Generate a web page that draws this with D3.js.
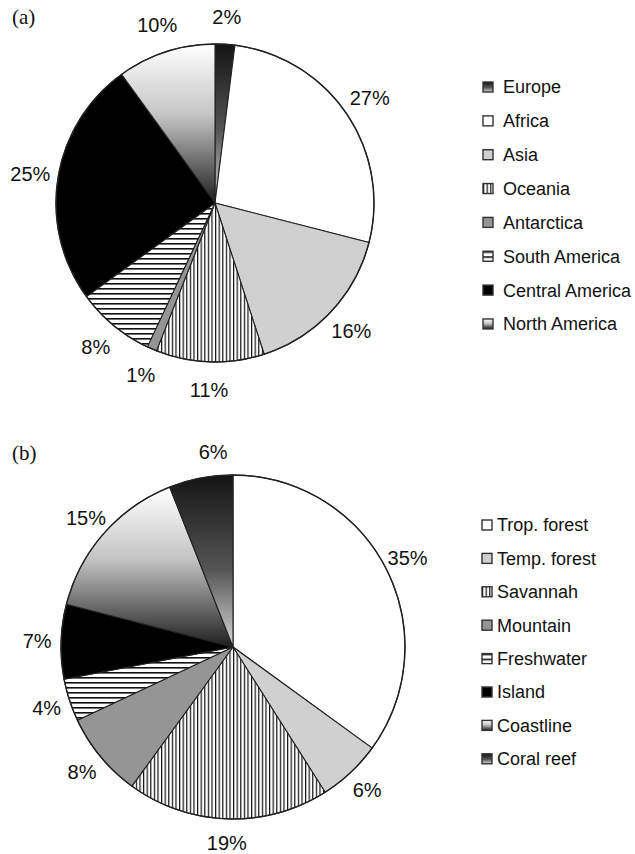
<!DOCTYPE html>
<html>
<head>
<meta charset="utf-8">
<script src="https://cdn.jsdelivr.net/npm/d3@7"></script>
<style>
  html, body { margin: 0; padding: 0; background: #fff; }
  svg { display: block; }
</style>
</head>
<body>
<svg id="chart" width="635" height="854"></svg>
<script>
// Panel (a): share of records by region
const regions = ["Europe", "Africa", "Asia", "Oceania", "Antarctica", "South America", "Central America", "North America"];
const regionShares = [2, 27, 16, 11, 1, 8, 25, 10];
const regionFills = ["gradDark", "white", "lightgray", "vstripe", "midgray", "hstripe", "black", "gradLight"];

// Panel (b): share of records by habitat
const habitats = ["Trop. forest", "Temp. forest", "Savannah", "Mountain", "Freshwater", "Island", "Coastline", "Coral reef"];
const habitatShares = [35, 6, 19, 8, 4, 7, 15, 6];
const habitatFills = ["white", "lightgray", "vstripe", "midgray", "hstripe", "black", "gradLight", "gradDark"];

const panelLetters = ["(a)", "(b)"];

const svg = d3.select("#chart");
const defs = svg.append("defs");

// Linear gradients running top-to-bottom over each slice
function addGradient(id, stops) {
  const g = defs.append("linearGradient").attr("id", id)
    .attr("x1", 0).attr("y1", 0).attr("x2", 0).attr("y2", 1);
  stops.forEach(([o, c]) => g.append("stop").attr("offset", o).attr("stop-color", c));
}
addGradient("gradLight", [[0, "#ffffff"], [0.45, "#c4c4c4"], [1, "#1e1e1e"]]);
addGradient("gradDark", [[0, "#141414"], [0.55, "#555555"], [1, "#d8d8d8"]]);

// Hatch patterns
function addStripes(id, period, lineW, vertical) {
  const p = defs.append("pattern").attr("id", id)
    .attr("patternUnits", "userSpaceOnUse")
    .attr("width", period).attr("height", period);
  p.append("rect").attr("width", period).attr("height", period).attr("fill", "#fff");
  if (vertical) p.append("rect").attr("x", 0).attr("y", 0).attr("width", lineW).attr("height", period).attr("fill", "#111");
  else p.append("rect").attr("x", 0).attr("y", 0).attr("width", period).attr("height", lineW).attr("fill", "#111");
}
addStripes("vstripe", 3.6, 1.2, true);
addStripes("hstripe", 5, 1.6, false);

const fillFor = {
  white: "#ffffff",
  lightgray: "#d0d0d0",
  midgray: "#959595",
  black: "#000000",
  vstripe: "url(#vstripe)",
  hstripe: "url(#hstripe)",
  gradLight: "url(#gradLight)",
  gradDark: "url(#gradDark)"
};

function drawPanel(cfg) {
  const g = svg.append("g").attr("transform", `translate(${cfg.cx},${cfg.cy})`);
  const pie = d3.pie().sort(null).value(d => d.value);
  const data = cfg.names.map((n, i) => ({ name: n, value: cfg.values[i], fill: cfg.fills[i] }));
  const arcs = pie(data);
  const arc = d3.arc().innerRadius(0).outerRadius(cfg.r);
  const labelArc = d3.arc().innerRadius(cfg.r + cfg.labelGap).outerRadius(cfg.r + cfg.labelGap);

  g.selectAll("path.slice").data(arcs).join("path")
    .attr("class", "slice")
    .attr("d", arc)
    .attr("fill", d => fillFor[d.data.fill])
    .attr("stroke", "#222")
    .attr("stroke-width", 1.1)
    .attr("stroke-linejoin", "round");

  g.append("circle").attr("r", cfg.r).attr("fill", "none")
    .attr("stroke", "#222").attr("stroke-width", 1.4);

  g.selectAll("text.pct").data(arcs).join("text")
    .attr("class", "pct")
    .attr("transform", d => {
      const shift = (cfg.angleShift[d.index] || 0) * Math.PI / 180;
      const a = (d.startAngle + d.endAngle) / 2 + shift;
      const c = labelArc.centroid({ startAngle: a, endAngle: a });
      return `translate(${c[0]},${c[1]})`;
    })
    .attr("text-anchor", "middle")
    .attr("dy", "0.36em")
    .attr("font-family", "'Liberation Sans', Arial, sans-serif")
    .attr("font-size", 20)
    .attr("fill", "#111")
    .text(d => d.data.value + "%");

  // Legend
  const lg = svg.append("g").attr("transform", `translate(${cfg.legendX},${cfg.legendY})`);
  const rows = lg.selectAll("g").data(data).join("g")
    .attr("transform", (d, i) => `translate(0,${i * cfg.legendStep})`);
  rows.append("rect")
    .attr("x", 0).attr("y", -5).attr("width", 10).attr("height", 10)
    .attr("fill", d => fillFor[d.fill])
    .attr("stroke", "#333").attr("stroke-width", 1.4);
  rows.append("text")
    .attr("x", cfg.legendTextX)
    .attr("dy", "0.36em")
    .attr("font-family", "'Liberation Sans', Arial, sans-serif")
    .attr("font-size", 18)
    .attr("fill", "#111")
    .text(d => d.name);

  svg.append("text")
    .attr("x", cfg.letterX).attr("y", cfg.letterY)
    .attr("font-family", "'Liberation Serif', 'Times New Roman', serif")
    .attr("font-size", 21)
    .attr("fill", "#111")
    .text(cfg.letter);
}

drawPanel({
  names: regions, values: regionShares, fills: regionFills,
  cx: 215, cy: 203, r: 159, labelGap: 28,
  angleShift: {},
  legendX: 483, legendY: 87, legendStep: 33.85, legendTextX: 20,
  letter: panelLetters[0], letterX: 12, letterY: 24
});

drawPanel({
  names: habitats, values: habitatShares, fills: habitatFills,
  cx: 233, cy: 647, r: 172, labelGap: 24,
  angleShift: { 7: 5 },
  legendX: 482, legendY: 525, legendStep: 33.4, legendTextX: 15,
  letter: panelLetters[1], letterX: 12, letterY: 460
});
</script>
</body>
</html>
